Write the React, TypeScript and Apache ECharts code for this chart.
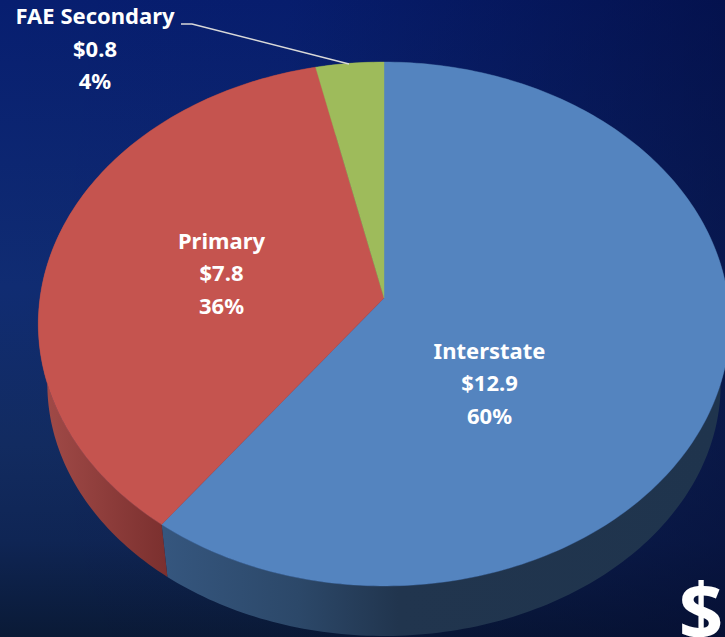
import React, { useEffect, useRef } from "react";
import * as echarts from "echarts";

const categories = ["Interstate", "Primary", "FAE Secondary"];
const amounts = [12.9, 7.8, 0.75];
const amountLabels = ["$12.9", "$7.8", "$0.8"];
const shareLabels = ["60%", "36%", "4%"];
const topColors = ["#5484bf", "#c5544f", "#9ebb5b"];
const wallStops = [
  [[0, "#35567e"], [0.24, "#2c4869"], [0.42, "#21354e"], [1, "#1f344d"]],
  [[0, "#a04a47"], [1, "#7a2f2e"]],
  [[0, "#6d8340"], [1, "#6d8340"]],
];
const wallRanges = [[165, 720], [45, 170], [310, 384]];
const labelCentres = [[489.5, 382], [221.5, 272], [95, 47.5]];
const leaderLine = [[181, 24], [192, 24], [349, 64]];

const FONT = "'Noto Sans', 'Open Sans', sans-serif";
const CX = 384;
const K = -0.0992;
const TOP = { apexY: 298, a: 344, b: 259.4 };
const BOTTOM = { apexY: 359, a: 335, b: 249.5 };

function project(theta: number, m: { apexY: number; a: number; b: number }) {
  const u = Math.sin(theta);
  const v = -Math.cos(theta);
  const w = 1 + K * v;
  return [CX + (m.a * u) / w, m.apexY + (m.b * v) / w];
}

function sliceAngles(index: number) {
  const total = amounts.reduce((s, x) => s + x, 0);
  let before = 0;
  for (let i = 0; i < index; i++) before += amounts[i];
  const start = (before / total) * Math.PI * 2;
  const end = ((before + amounts[index]) / total) * Math.PI * 2;
  return [start, end];
}

function arc(start: number, end: number, m: typeof TOP) {
  const n = Math.max(2, Math.ceil(((end - start) * 180) / Math.PI));
  const pts: number[][] = [];
  for (let i = 0; i <= n; i++) pts.push(project(start + ((end - start) * i) / n, m));
  return pts;
}

export default function App() {
  const ref = useRef<HTMLDivElement>(null);
  useEffect(() => {
    document.body.style.margin = "0";
    const chart = echarts.init(ref.current!, null, { renderer: "svg" });
    const data = amounts.map((v, i) => ({ name: categories[i], value: v }));
    chart.setOption({
      animation: false,
      backgroundColor: new echarts.graphic.LinearGradient(0, 0, 0, 1, [
        { offset: 0, color: "#071e70" },
        { offset: 0.45, color: "#102c72" },
        { offset: 0.7, color: "#122b60" },
        { offset: 0.85, color: "#0f2554" },
        { offset: 1, color: "#0a1a36" },
      ]),
      series: [
        {
          type: "custom",
          coordinateSystem: "none",
          silent: true,
          z: 2,
          data,
          renderItem: (params: any) => {
            const i = params.dataIndex;
            const [s, e] = sliceAngles(i);
            const pts = [...arc(s, e, TOP), ...arc(s, e, BOTTOM).reverse()];
            const [x0, x1] = wallRanges[i];
            return {
              type: "polygon",
              shape: { points: pts },
              style: {
                fill: new echarts.graphic.LinearGradient(
                  x0, 0, x1, 0,
                  wallStops[i].map(([offset, color]) => ({ offset, color })) as any,
                  true
                ),
              },
            };
          },
        },
        {
          type: "custom",
          coordinateSystem: "none",
          silent: true,
          z: 3,
          data,
          renderItem: (params: any) => {
            const i = params.dataIndex;
            const [s, e] = sliceAngles(i);
            const pts = [[CX, TOP.apexY], ...arc(s, e, TOP)];
            return {
              type: "polygon",
              shape: { points: pts },
              style: { fill: topColors[i], stroke: topColors[i], lineWidth: 0.4 },
            };
          },
        },
      ],
      graphic: [
        {
          type: "rect",
          z: 0,
          silent: true,
          shape: { x: 0, y: 0, width: 725, height: 637 },
          style: {
            fill: new echarts.graphic.LinearGradient(0, 0, 1, 0, [
              { offset: 0, color: "rgba(2,8,50,0)" },
              { offset: 0.4, color: "rgba(2,8,50,0.05)" },
              { offset: 1, color: "rgba(2,8,50,0.55)" },
            ]),
          },
        },
        {
          type: "polyline",
          z: 10,
          silent: true,
          shape: { points: leaderLine },
          style: { stroke: "#d9d9d9", lineWidth: 1.5, fill: "none" },
        },
        ...categories.map((c, i) => ({
          type: "text",
          z: 10,
          silent: true,
          x: labelCentres[i][0],
          y: labelCentres[i][1],
          style: {
            text: `${c}\n${amountLabels[i]}\n${shareLabels[i]}`,
            font: `bold 22px ${FONT}`,
            lineHeight: 32.5,
            fill: "#ffffff",
            align: "center",
            verticalAlign: "middle",
          },
        })),
        {
          type: "text",
          z: 10,
          silent: true,
          x: 701,
          y: 571,
          style: {
            text: "$",
            font: `bold 78px ${FONT}`,
            fill: "#ffffff",
            align: "center",
            verticalAlign: "top",
          },
        },
      ],
    });
    return () => chart.dispose();
  }, []);
  return <div ref={ref} style={{ width: 725, height: 637 }} />;
}
